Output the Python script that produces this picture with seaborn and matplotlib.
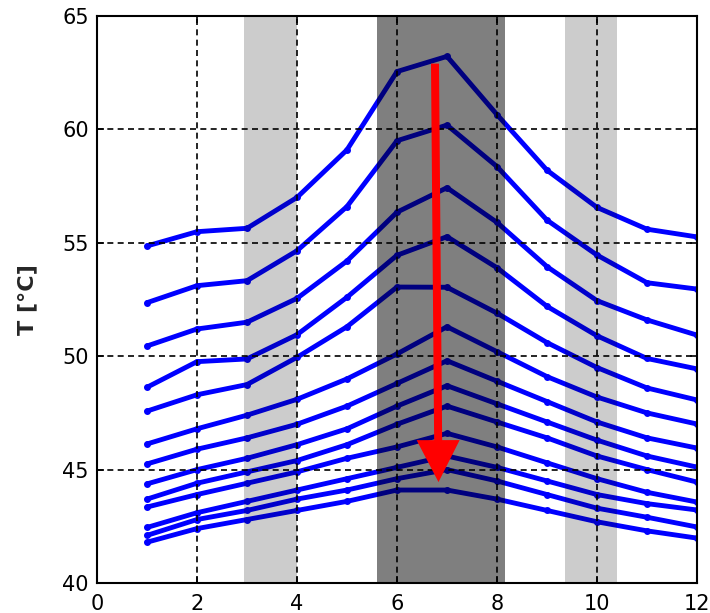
import numpy as np
import pandas as pd
import matplotlib
matplotlib.use("Agg")
import matplotlib.pyplot as plt
import seaborn as sns

# Hour index along the horizontal axis
hours = list(range(1, 13))

# Temperature profiles, one per run (top to bottom)
run_01 = [54.86, 55.49, 55.64, 57.00, 59.10, 62.55, 63.22, 60.65, 58.20, 56.56, 55.60, 55.26]
run_02 = [52.36, 53.11, 53.33, 54.65, 56.60, 59.50, 60.19, 58.36, 56.00, 54.46, 53.24, 52.96]
run_03 = [50.45, 51.20, 51.50, 52.55, 54.20, 56.35, 57.43, 55.90, 53.95, 52.45, 51.60, 50.93]
run_04 = [48.63, 49.76, 49.88, 50.95, 52.60, 54.45, 55.27, 53.90, 52.20, 50.90, 49.90, 49.44]
run_05 = [47.58, 48.30, 48.75, 49.95, 51.30, 53.05, 53.04, 51.90, 50.60, 49.50, 48.60, 48.07]
run_06 = [46.13, 46.80, 47.40, 48.10, 49.00, 50.10, 51.30, 50.20, 49.10, 48.20, 47.50, 47.01]
run_07 = [45.25, 45.90, 46.40, 47.00, 47.80, 48.80, 49.80, 48.90, 48.00, 47.10, 46.40, 45.95]
run_08 = [44.37, 45.00, 45.50, 46.10, 46.80, 47.80, 48.70, 47.90, 47.10, 46.30, 45.60, 45.11]
run_09 = [43.70, 44.40, 44.90, 45.40, 46.10, 47.00, 47.80, 47.10, 46.40, 45.60, 45.00, 44.45]
run_10 = [43.35, 43.90, 44.40, 44.90, 45.50, 46.00, 46.60, 46.00, 45.30, 44.60, 44.00, 43.57]
run_11 = [42.45, 43.10, 43.60, 44.10, 44.60, 45.10, 45.60, 45.10, 44.50, 43.90, 43.50, 43.22]
run_12 = [42.10, 42.80, 43.20, 43.70, 44.10, 44.60, 45.00, 44.50, 43.90, 43.30, 42.90, 42.47]
run_13 = [41.80, 42.40, 42.80, 43.20, 43.60, 44.10, 44.10, 43.70, 43.20, 42.70, 42.30, 41.98]

runs = [run_01, run_02, run_03, run_04, run_05, run_06, run_07,
        run_08, run_09, run_10, run_11, run_12, run_13]

# Shaded intervals
light_spans = [(2.95, 4.0), (9.35, 10.4)]
dark_spans = [(5.6, 8.15)]

x_ticks = [0, 2, 4, 6, 8, 10, 12]
y_ticks = [40, 45, 50, 55, 60, 65]

# Long-form table for seaborn
df = pd.DataFrame({
    "hour": np.tile(hours, len(runs)),
    "T": np.concatenate(runs),
    "run": np.repeat(np.arange(len(runs)), len(hours)),
})

sns.set_theme(style="white")
plt.rcParams["font.family"] = ["DejaVu Sans"]

fig = plt.figure(figsize=(7.10, 6.13), dpi=100)
ax = fig.add_axes([0.1366, 0.0489, 0.8451, 0.9250])

sns.lineplot(data=df, x="hour", y="T", units="run", estimator=None,
             color="#0000ff", linewidth=3.5, marker=".", markersize=10,
             markeredgewidth=0, sort=False, ax=ax, zorder=1, legend=False)

for a, b in light_spans:
    ax.axvspan(a, b, color="black", alpha=0.2, linewidth=0, zorder=1.2)
for a, b in dark_spans:
    ax.axvspan(a, b, color="black", alpha=0.5, linewidth=0, zorder=1.2)

# Trend arrow across the peak region
ax.arrow(6.76, 62.9, 0.07, -18.45, width=0.16, head_width=0.86,
         head_length=1.85, length_includes_head=True, color="#ff0000",
         linewidth=0, zorder=4)

ax.set_xlim(0, 12)
ax.set_ylim(40, 65)
ax.set_xticks(x_ticks)
ax.set_yticks(y_ticks)
ax.set_xlabel("")
ax.set_ylabel("T [°C]", fontsize=16, fontweight="bold", labelpad=18)

ax.set_axisbelow(False)
ax.grid(True, color="black", linestyle=(0, (3.6, 2.6)), linewidth=1.2, alpha=1)
for gl in ax.get_xgridlines() + ax.get_ygridlines():
    gl.set_zorder(2.5)

ax.tick_params(axis="both", which="major", direction="in", length=5,
               width=1.2, color="black", labelsize=15, labelcolor="black",
               top=True, right=True, bottom=True, left=True)
ax.tick_params(axis="y", pad=6)
ax.tick_params(axis="x", pad=8)

for s in ax.spines.values():
    s.set_visible(True)
    s.set_color("black")
    s.set_linewidth(1.5)
    s.set_zorder(5)

fig.savefig("out.png", dpi=100)
